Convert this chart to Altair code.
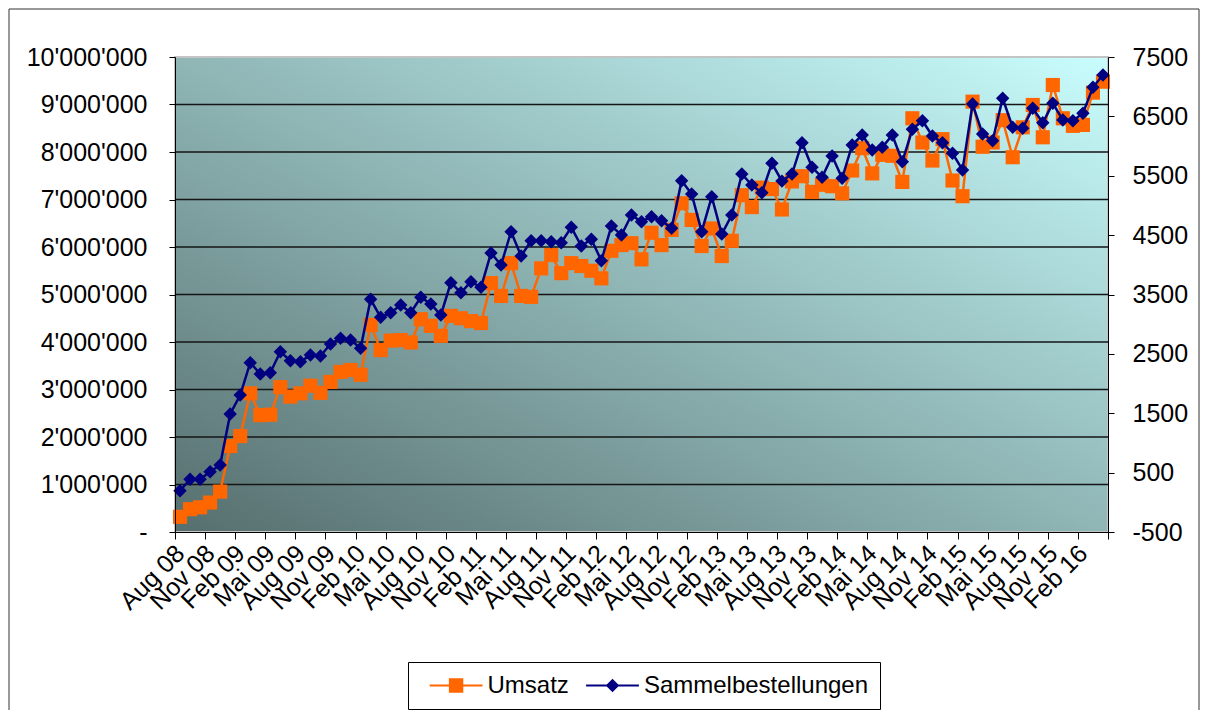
import json
import altair as alt
import pandas as pd

FONT = "Liberation Sans"

# German month abbreviations, series runs Aug 2008 .. Apr 2016 (93 months)
month_names = ["Jan", "Feb", "Mrz", "Apr", "Mai", "Jun", "Jul", "Aug", "Sep", "Okt", "Nov", "Dez"]
labels = []
_m, _y = 7, 8
for _ in range(93):
    labels.append(f"{month_names[_m]} {_y:02d}")
    _m += 1
    if _m == 12:
        _m, _y = 0, _y + 1

umsatz = [
    320000, 480000, 520000, 620000, 850000, 1810000, 2020000, 2920000, 2460000, 2470000,
    3050000, 2850000, 2920000, 3080000, 2930000, 3160000, 3370000, 3410000, 3310000, 4360000,
    3830000, 4030000, 4040000, 3990000, 4480000, 4340000, 4130000, 4550000, 4500000, 4440000,
    4400000, 5240000, 4970000, 5660000, 4970000, 4950000, 5550000, 5830000, 5450000, 5660000,
    5600000, 5500000, 5340000, 5920000, 6040000, 6080000, 5740000, 6300000, 6040000, 6360000,
    6920000, 6570000, 6020000, 6390000, 5810000, 6130000, 7090000, 6840000, 7250000, 7220000,
    6790000, 7380000, 7490000, 7160000, 7310000, 7280000, 7130000, 7610000, 8080000, 7550000,
    7940000, 7920000, 7370000, 8710000, 8200000, 7820000, 8270000, 7400000, 7070000, 9060000,
    8110000, 8200000, 8670000, 7890000, 8520000, 8990000, 8310000, 9410000, 8710000, 8550000,
    8570000, 9250000, 9480000,
]

sammel = [
    195, 388, 388, 516, 628, 1487, 1807, 2351, 2161, 2183,
    2537, 2385, 2368, 2481, 2464, 2666, 2762, 2734, 2594, 3419,
    3116, 3193, 3323, 3193, 3453, 3340, 3155, 3699, 3530, 3716,
    3621, 4199, 3997, 4558, 4148, 4406, 4406, 4389, 4372, 4632,
    4317, 4430, 4069, 4654, 4502, 4839, 4726, 4810, 4743, 4615,
    5417, 5193, 4558, 5148, 4519, 4839, 5529, 5344, 5215, 5710,
    5410, 5529, 6057, 5642, 5474, 5833, 5457, 6018, 6186, 5934,
    5979, 6186, 5737, 6282, 6427, 6169, 6057, 5878, 5597, 6708,
    6203, 6090, 6804, 6316, 6299, 6636, 6393, 6720, 6439, 6427,
    6552, 6990, 7197,
]

left_ticks = list(range(0, 10_000_001, 1_000_000))
grid_values = list(range(1_000_000, 9_000_001, 1_000_000))
right_ticks = list(range(-500, 7501, 1000))
x_ticks = list(range(0, len(labels) + 1, 3))  # tick at the start of every 3rd month

series = ["Umsatz", "Sammelbestellungen"]
series_colors = ["#ff6600", "#000080"]
legend_shapes = [
    "M-2.2,-0.09L2.2,-0.09L2.2,0.09L-2.2,0.09Z M-0.6,-0.6L0.6,-0.6L0.6,0.6L-0.6,0.6Z",
    "M-2.2,-0.09L2.2,-0.09L2.2,0.09L-2.2,0.09Z M0,-0.56L0.56,0L0,0.56L-0.56,0Z",
]

W, H = 933, 475

df = pd.DataFrame({
    "Index": list(range(len(labels))),
    "Monat": labels,
    "Umsatz": umsatz,
    "Sammelbestellungen": sammel,
})
grid_df = pd.DataFrame({"Umsatz": grid_values})
one = pd.DataFrame({"a": [0]})
leg_df = pd.DataFrame({"Serie": series})

label_expr_x = (
    f"datum.value < {len(labels)} ? {json.dumps(labels)}[datum.value] : ''"
)

x_enc = alt.X(
    "pos:Q",
    scale=alt.Scale(domain=[0, len(labels)], nice=False, zero=False),
    axis=alt.Axis(
        values=x_ticks, labelExpr=label_expr_x,
        labelAngle=-45, labelAlign="right", labelBaseline="middle",
        labelOffset=5, tickSize=7, tickColor="black", domainColor="black",
        labelFont=FONT, labelFontSize=25, labelColor="black", labelPadding=10,
        labelOverlap=False, labelBound=False, labelFlush=False,
        title=None, grid=False, zindex=1,
    ),
)

left_axis = alt.Axis(
    orient="left", values=left_ticks, grid=False, tickSize=6, tickColor="black",
    domainColor="black", labelFont=FONT, labelFontSize=25, labelColor="black",
    labelPadding=22, title=None, zindex=1, labelFlush=False, labelOverlap=False,
    labelExpr="datum.value == 0 ? '-\u00a0\u00a0' : replace(replace(format(datum.value, ','), ',', \"'\"), ',', \"'\")",
)
y_u = alt.Y("Umsatz:Q", scale=alt.Scale(domain=[0, 10_000_000], nice=False, zero=False), axis=left_axis)

right_axis = alt.Axis(
    orient="right", values=right_ticks, grid=False, tickSize=6, tickColor="black",
    domainColor="black", labelFont=FONT, labelFontSize=25, labelColor="black",
    labelPadding=18, title=None, zindex=1, labelFlush=False, labelOverlap=False,
    labelExpr="'' + datum.value",
)
y_s = alt.Y("Sammelbestellungen:Q", scale=alt.Scale(domain=[-500, 7500], nice=False, zero=False), axis=right_axis)

gradient = alt.LinearGradient(
    gradient="linear",
    stops=[alt.GradientStop(color="#566e6e", offset=0), alt.GradientStop(color="#c9fdfd", offset=1)],
    x1=0, y1=1, x2=1, y2=0,
)

frame = alt.Chart(one).mark_rect(fillOpacity=0, stroke="#333333", strokeWidth=1).encode(
    x=alt.value(-166), x2=alt.value(1024), y=alt.value(-48), y2=alt.value(654)
)
bg = alt.Chart(one).mark_rect(fill=gradient, stroke="#c4c4c4", strokeWidth=2).encode(
    x=alt.value(0), x2=alt.value(W), y=alt.value(0), y2=alt.value(H)
)
grid = alt.Chart(grid_df).mark_rule(color="#151515", strokeWidth=1.5).encode(y=y_u)

base = alt.Chart(df).transform_calculate(pos="datum.Index + 0.5")
line_u = base.mark_line(color="#ff6600", strokeWidth=2.5).encode(x=x_enc, y=y_u)
pts_u = base.mark_point(shape="square", filled=True, size=200, color="#ff6600", opacity=1).encode(x=x_enc, y=y_u)
line_s = base.mark_line(color="#000080", strokeWidth=2.5).encode(x=x_enc, y=y_s)
pts_s = base.mark_point(shape="diamond", filled=True, size=180, color="#000080", opacity=1).encode(x=x_enc, y=y_s)

legend = alt.Legend(
    orient="none", legendX=233, legendY=605, direction="horizontal", columns=2,
    title="\u00a0", titleOrient="left", titleFontSize=1, titlePadding=24.6,
    padding=11.5, strokeColor="black", fillColor="white",
    symbolSize=576, symbolStrokeWidth=0, symbolOpacity=1,
    labelFont=FONT, labelFontSize=24, labelColor="black", labelOffset=19.4,
    columnPadding=16.4, labelLimit=600,
)
leg = alt.Chart(leg_df).transform_filter("false").mark_point(filled=True).encode(
    x=alt.value(0), y=alt.value(0),
    color=alt.Color("Serie:N", scale=alt.Scale(domain=series, range=series_colors), legend=legend),
    shape=alt.Shape("Serie:N", scale=alt.Scale(domain=series, range=legend_shapes), legend=legend),
)

layer_u = alt.layer(frame, bg, grid, line_u, pts_u)
layer_s = alt.layer(line_s, pts_s)

chart = (
    alt.layer(layer_u, layer_s, leg)
    .resolve_scale(y="independent")
    .properties(
        width=W, height=H,
        autosize=alt.AutoSizeParams(type="none"),
        padding={"left": 167, "top": 49, "right": 92, "bottom": 178},
        background="white",
    )
)

chart.save("out.html", embed_options={"renderer": "svg", "actions": False})
